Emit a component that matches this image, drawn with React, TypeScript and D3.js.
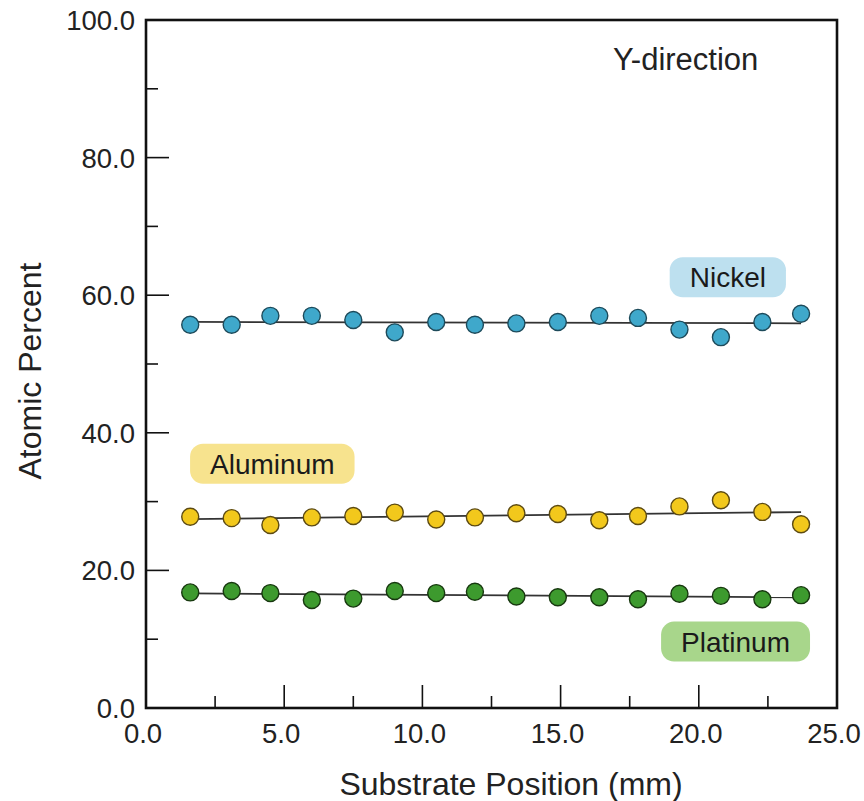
import React, { useEffect, useRef } from 'react';
import * as d3 from 'd3';

// substrate positions (mm)
const positions: number[] = [1.6, 3.1, 4.5, 6.0, 7.5, 9.0, 10.5, 11.9, 13.4, 14.9, 16.4, 17.8, 19.3, 20.8, 22.3, 23.7];

// atomic percent per element
const nickel: number[] = [55.7, 55.7, 57.0, 57.0, 56.4, 54.6, 56.1, 55.7, 55.9, 56.1, 57.0, 56.7, 55.0, 53.9, 56.1, 57.3];
const aluminum: number[] = [27.8, 27.6, 26.6, 27.7, 27.9, 28.4, 27.4, 27.7, 28.3, 28.2, 27.3, 27.9, 29.3, 30.2, 28.5, 26.7];
const platinum: number[] = [16.8, 17.0, 16.7, 15.7, 15.9, 17.0, 16.7, 16.9, 16.2, 16.1, 16.1, 15.8, 16.6, 16.3, 15.8, 16.4];

const xMajorTicks: number[] = [0, 5, 10, 15, 20, 25];
const xMinorTicks: number[] = [2.5, 7.5, 12.5, 17.5, 22.5];
const yMajorTicks: number[] = [0, 20, 40, 60, 80, 100];
const yMinorTicks: number[] = [10, 30, 50, 70, 90];

interface Series {
  name: string;
  values: number[];
  fill: string;
  stroke: string;
  badge: string;
  // label box centre, in data units
  lx: number;
  ly: number;
}

const series: Series[] = [
  { name: 'Nickel', values: nickel, fill: '#3fa8cb', stroke: '#1d4a5a', badge: '#bde0ef', lx: 21.05, ly: 62.6 },
  { name: 'Aluminum', values: aluminum, fill: '#f2c81c', stroke: '#5c4a12', badge: '#f7e38e', lx: 4.57, ly: 35.5 },
  { name: 'Platinum', values: platinum, fill: '#3d9a2e', stroke: '#17380f', badge: '#a8d68b', lx: 21.33, ly: 9.65 },
];

const FONT = '"Liberation Sans", Arial, Helvetica, sans-serif';

function fit(xs: number[], ys: number[]) {
  const mx = d3.mean(xs) as number;
  const my = d3.mean(ys) as number;
  let num = 0;
  let den = 0;
  xs.forEach((x, i) => {
    num += (x - mx) * (ys[i] - my);
    den += (x - mx) * (x - mx);
  });
  const b = num / den;
  return (x: number) => my + b * (x - mx);
}

const App: React.FC = () => {
  const ref = useRef<SVGSVGElement | null>(null);

  useEffect(() => {
    if (!ref.current) return;
    const width = 864;
    const height = 801;
    const margin = { top: 20, right: 27, bottom: 93, left: 146 };

    const svg = d3.select(ref.current);
    svg.selectAll('*').remove();
    svg.attr('width', width).attr('height', height);

    const x = d3.scaleLinear().domain([0, 25]).range([margin.left, width - margin.right]);
    const y = d3.scaleLinear().domain([0, 100]).range([height - margin.bottom, margin.top]);

    const g = svg.append('g');

    // ticks (inward)
    const tickG = g.append('g').attr('stroke', '#111').attr('stroke-width', 1.6);
    xMajorTicks.forEach((t) => {
      tickG.append('line').attr('x1', x(t)).attr('x2', x(t)).attr('y1', y(0)).attr('y2', y(0) - 23);
    });
    xMinorTicks.forEach((t) => {
      tickG.append('line').attr('x1', x(t)).attr('x2', x(t)).attr('y1', y(0)).attr('y2', y(0) - 12);
    });
    yMajorTicks.forEach((t) => {
      tickG.append('line').attr('y1', y(t)).attr('y2', y(t)).attr('x1', x(0)).attr('x2', x(0) + 23);
    });
    yMinorTicks.forEach((t) => {
      tickG.append('line').attr('y1', y(t)).attr('y2', y(t)).attr('x1', x(0)).attr('x2', x(0) + 12);
    });

    // tick labels
    g.selectAll('text.xt')
      .data(xMajorTicks)
      .enter()
      .append('text')
      .attr('x', (d) => x(d) - 3)
      .attr('y', y(0) + 35)
      .attr('text-anchor', 'middle')
      .style('font-family', FONT)
      .style('font-size', '27.5px')
      .attr('fill', '#222')
      .text((d) => d.toFixed(1));

    g.selectAll('text.yt')
      .data(yMajorTicks)
      .enter()
      .append('text')
      .attr('x', x(0) - 11)
      .attr('y', (d) => y(d))
      .attr('dy', '0.36em')
      .attr('text-anchor', 'end')
      .style('font-family', FONT)
      .style('font-size', '27.5px')
      .attr('fill', '#222')
      .text((d) => d.toFixed(1));

    // axis titles
    g.append('text')
      .attr('x', 511)
      .attr('y', 795)
      .attr('text-anchor', 'middle')
      .style('font-family', FONT)
      .style('font-size', '32px')
      .attr('fill', '#222')
      .text('Substrate Position (mm)');

    g.append('text')
      .attr('transform', `translate(41, ${(y(0) + y(100)) / 2 + 7}) rotate(-90)`)
      .attr('text-anchor', 'middle')
      .style('font-family', FONT)
      .style('font-size', '32px')
      .attr('fill', '#222')
      .text('Atomic Percent');

    g.append('text')
      .attr('x', 613)
      .attr('y', 70)
      .style('font-family', FONT)
      .style('font-size', '31px')
      .attr('fill', '#222')
      .text('Y-direction');

    // label badges
    series.forEach((s) => {
      const cx = x(s.lx);
      const cy = y(s.ly);
      const t = g
        .append('text')
        .attr('x', cx)
        .attr('y', cy)
        .attr('dy', '0.36em')
        .attr('text-anchor', 'middle')
        .style('font-family', FONT)
        .style('font-size', '28px')
        .attr('fill', '#1a1a1a')
        .text(s.name);
      const w = (t.node() as SVGTextElement).getComputedTextLength() + 40;
      g.insert('rect', () => t.node() as SVGTextElement)
        .attr('x', cx - w / 2)
        .attr('y', cy - 20)
        .attr('width', w)
        .attr('height', 40)
        .attr('rx', 13)
        .attr('fill', s.badge);
    });

    // fit lines and points
    series.forEach((s) => {
      const f = fit(positions, s.values);
      const x0 = positions[0];
      const x1 = positions[positions.length - 1];
      g.append('line')
        .attr('x1', x(x0))
        .attr('x2', x(x1))
        .attr('y1', y(f(x0)))
        .attr('y2', y(f(x1)))
        .attr('stroke', '#333')
        .attr('stroke-width', 1.8);

      g.append('g')
        .selectAll('circle')
        .data(s.values)
        .enter()
        .append('circle')
        .attr('cx', (_d, i) => x(positions[i]))
        .attr('cy', (d) => y(d))
        .attr('r', 8.5)
        .attr('fill', s.fill)
        .attr('stroke', s.stroke)
        .attr('stroke-width', 1.4);
    });

    // frame
    g.append('rect')
      .attr('x', x(0))
      .attr('y', y(100))
      .attr('width', x(25) - x(0))
      .attr('height', y(0) - y(100))
      .attr('fill', 'none')
      .attr('stroke', '#111')
      .attr('stroke-width', 2.6);
  }, []);

  return (
    <svg
      ref={ref}
      style={{ position: 'absolute', left: 0, top: 0, background: '#fff' }}
    ></svg>
  );
};

export default App;
